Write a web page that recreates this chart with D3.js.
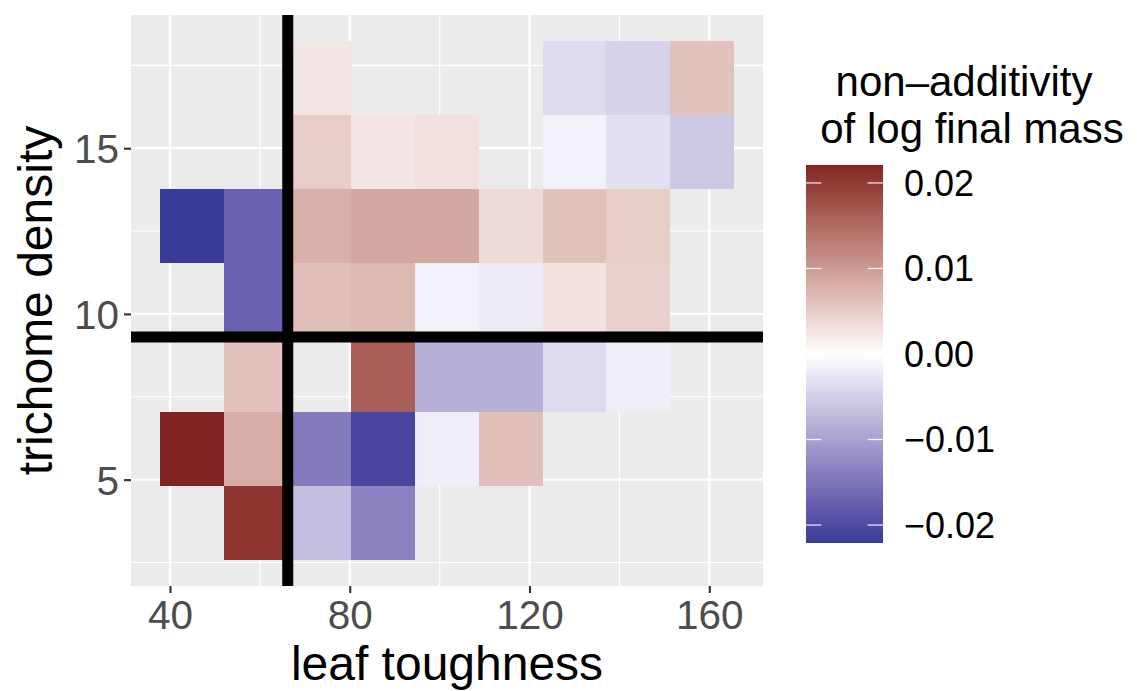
<!DOCTYPE html>
<html>
<head>
<meta charset="utf-8">
<script src="https://cdn.jsdelivr.net/npm/d3@7"></script>
<style>
  html, body { margin: 0; padding: 0; background: #ffffff; }
  svg { display: block; font-family: "Liberation Sans", Arial, Helvetica, sans-serif; }
</style>
</head>
<body>
<svg id="chart" width="1137" height="691"></svg>
<script>
// ---------------- data ----------------
const xCenters = [44.9, 59.1, 73.3, 87.4, 101.6, 115.8, 130.0, 144.2, 158.4]; // leaf toughness bin centres
const yCenters = [17.11, 14.88, 12.64, 10.41, 8.17, 5.93, 3.70];              // trichome density bin centres (top to bottom)
const rowY17 = [null, null, 0.0025, null, null, null, -0.0037, -0.0046, 0.0060];
const rowY15 = [null, null, 0.0050, 0.0025, 0.0030, null, -0.0015, -0.0033, -0.0058];
const rowY13 = [-0.0221, -0.0172, 0.0079, 0.0086, 0.0086, 0.0036, 0.0061, 0.0050, null];
const rowY10 = [null, -0.0172, 0.0063, 0.0069, -0.0015, -0.0021, 0.0028, 0.0046, null];
const rowY8  = [null, 0.0061, null, 0.0162, -0.0084, -0.0084, -0.0037, -0.0018, null];
const rowY6  = [0.0221, 0.0081, -0.0142, -0.0206, -0.0018, 0.0063, null, null, null];
const rowY4  = [null, 0.0204, -0.0068, -0.0134, null, null, null, null, null];
const rows = [rowY17, rowY15, rowY13, rowY10, rowY8, rowY6, rowY4];
const xTicks = [40, 80, 120, 160];
const yTicks = [5, 10, 15];
const legendTicks = [0.02, 0.01, 0.00, -0.01, -0.02];
const vLineX = 66.2;
const hLineY = 9.30;
const binW = 14.19, binH = 2.236;

// ---------------- layout ----------------
const panel = {left: 131, right: 763, top: 15, bottom: 586};
const svg = d3.select("#chart");

const x = d3.scaleLinear().domain([31.32, 171.95]).range([panel.left, panel.right]);
const y = d3.scaleLinear().domain([1.79, 19.02]).range([panel.bottom, panel.top]);

const cells = [];
rows.forEach((r, i) => r.forEach((v, j) => { if (v !== null) cells.push({x: xCenters[j], y: yCenters[i], v}); }));
const vmax = d3.max(cells, d => Math.abs(d.v));
const color = d3.scaleLinear().domain([-vmax, 0, vmax])
  .range(["#3A3A98", "#FFFFFF", "#832424"]).interpolate(d3.interpolateLab);

// panel background
svg.append("rect").attr("x", panel.left).attr("y", panel.top)
  .attr("width", panel.right - panel.left).attr("height", panel.bottom - panel.top)
  .attr("fill", "#EBEBEB");

// grid lines
const xMinor = [60, 100, 140];
const yMinor = [2.5, 7.5, 12.5, 17.5];
const g = svg.append("g");
xMinor.forEach(v => g.append("line").attr("x1", x(v)).attr("x2", x(v)).attr("y1", panel.top).attr("y2", panel.bottom).attr("stroke", "#fff").attr("stroke-width", 1.1));
yMinor.forEach(v => g.append("line").attr("y1", y(v)).attr("y2", y(v)).attr("x1", panel.left).attr("x2", panel.right).attr("stroke", "#fff").attr("stroke-width", 1.1));
xTicks.forEach(v => g.append("line").attr("x1", x(v)).attr("x2", x(v)).attr("y1", panel.top).attr("y2", panel.bottom).attr("stroke", "#fff").attr("stroke-width", 2.2));
yTicks.forEach(v => g.append("line").attr("y1", y(v)).attr("y2", y(v)).attr("x1", panel.left).attr("x2", panel.right).attr("stroke", "#fff").attr("stroke-width", 2.2));

// tiles
svg.append("g").selectAll("rect").data(cells).join("rect")
  .attr("x", d => x(d.x - binW / 2))
  .attr("y", d => y(d.y + binH / 2))
  .attr("width", d => x(d.x + binW / 2) - x(d.x - binW / 2))
  .attr("height", d => y(d.y - binH / 2) - y(d.y + binH / 2))
  .attr("fill", d => color(d.v))
  .attr("shape-rendering", "crispEdges");

// reference lines
svg.append("line").attr("x1", x(vLineX)).attr("x2", x(vLineX)).attr("y1", panel.top).attr("y2", panel.bottom)
  .attr("stroke", "#000").attr("stroke-width", 11);
svg.append("line").attr("x1", panel.left).attr("x2", panel.right).attr("y1", y(hLineY)).attr("y2", y(hLineY))
  .attr("stroke", "#000").attr("stroke-width", 11);

// axes
const xAxis = svg.append("g").attr("transform", `translate(0,${panel.bottom})`)
  .call(d3.axisBottom(x).tickValues(xTicks).tickSize(7).tickPadding(6).tickFormat(d3.format("d")));
const yAxis = svg.append("g").attr("transform", `translate(${panel.left},0)`)
  .call(d3.axisLeft(y).tickValues(yTicks).tickSize(7).tickPadding(5).tickFormat(d3.format("d")));
[xAxis, yAxis].forEach(a => {
  a.select(".domain").remove();
  a.selectAll(".tick line").attr("stroke", "#333333").attr("stroke-width", 2.1);
  a.selectAll(".tick text").attr("fill", "#4D4D4D").attr("font-size", 40.5)
    .attr("font-family", "Liberation Sans, Arial, sans-serif");
});
xAxis.selectAll(".tick text").attr("dy", null).attr("y", 43);
yAxis.selectAll(".tick text").attr("dy", "0.36em");

// axis titles
svg.append("text").attr("x", (panel.left + panel.right) / 2).attr("y", 680)
  .attr("text-anchor", "middle").attr("font-size", 48).attr("fill", "#000").text("leaf toughness");
svg.append("text").attr("transform", `translate(52,${(panel.top + panel.bottom) / 2}) rotate(-90)`)
  .attr("text-anchor", "middle").attr("font-size", 48).attr("fill", "#000").text("trichome density");

// legend
const lg = {left: 806, right: 883, top: 165, bottom: 543};
svg.append("text").attr("x", 964).attr("y", 96).attr("text-anchor", "middle")
  .attr("font-size", 42).attr("fill", "#000").text("non\u2013additivity");
svg.append("text").attr("x", 972).attr("y", 143).attr("text-anchor", "middle")
  .attr("font-size", 42).attr("fill", "#000").text("of log final mass");

const ly = d3.scaleLinear().domain([-vmax, vmax]).range([lg.bottom, lg.top]);
const defs = svg.append("defs");
const grad = defs.append("linearGradient").attr("id", "lgGrad")
  .attr("x1", 0).attr("y1", 1).attr("x2", 0).attr("y2", 0);
d3.range(0, 1.0001, 0.02).forEach(t => {
  grad.append("stop").attr("offset", t).attr("stop-color", color(-vmax + 2 * vmax * t));
});
svg.append("rect").attr("x", lg.left).attr("y", lg.top).attr("width", lg.right - lg.left)
  .attr("height", lg.bottom - lg.top).attr("fill", "url(#lgGrad)");
const tickLen = (lg.right - lg.left) / 5;
legendTicks.forEach(v => {
  svg.append("line").attr("x1", lg.left).attr("x2", lg.left + tickLen).attr("y1", ly(v)).attr("y2", ly(v))
    .attr("stroke", "#fff").attr("stroke-opacity", 0.85).attr("stroke-width", 1.3);
  svg.append("line").attr("x1", lg.right - tickLen).attr("x2", lg.right).attr("y1", ly(v)).attr("y2", ly(v))
    .attr("stroke", "#fff").attr("stroke-opacity", 0.85).attr("stroke-width", 1.3);
  svg.append("text").attr("x", 904).attr("y", ly(v)).attr("dy", "0.36em")
    .attr("font-size", 36).attr("fill", "#000")
    .text(v < 0 ? "\u2212" + d3.format(".2f")(-v) : d3.format(".2f")(v));
});
</script>
</body>
</html>
